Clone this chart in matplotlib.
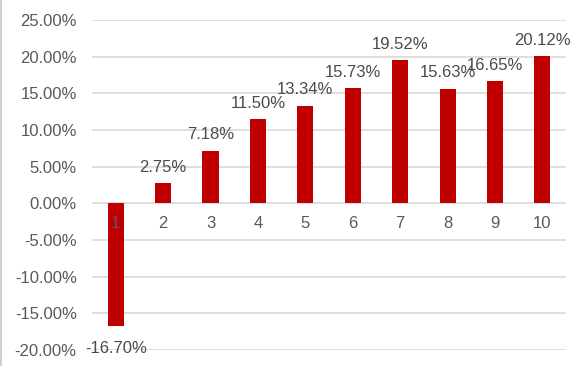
import matplotlib.pyplot as plt
from matplotlib.lines import Line2D
from matplotlib.ticker import FuncFormatter, MultipleLocator

groups = ["1", "2", "3", "4", "5", "6", "7", "8", "9", "10"]
returns = [-16.70, 2.75, 7.18, 11.50, 13.34, 15.73, 19.52, 15.63, 16.65, 20.12]

bar_color = "#C00000"
text_color = "#595959"
plt.rcParams["font.family"] = ["Liberation Sans", "DejaVu Sans"]

fig = plt.figure(figsize=(5.73, 3.66), dpi=100)
ax = fig.add_axes([0.1606, 0.0437, 0.8274, 0.9013])

x = list(range(len(groups)))
ax.bar(x, returns, width=0.34, color=bar_color, zorder=3)

ax.set_xlim(-0.5, len(groups) - 0.5)
ax.set_ylim(-20, 25)
ax.yaxis.set_major_locator(MultipleLocator(5))
ax.yaxis.set_major_formatter(FuncFormatter(lambda v, p: f"{v:.2f}%"))
ax.grid(axis="y", color="#D9D9D9", linewidth=1.2, zorder=0)
ax.tick_params(axis="y", length=0, pad=11, labelsize=12, labelcolor=text_color)
ax.set_xticks([])
for s in ax.spines.values():
    s.set_visible(False)

# category labels sit just under the zero line
for xi, g in zip(x, groups):
    ax.annotate(g, (xi, 0), xytext=(0, -9), textcoords="offset points",
                ha="center", va="top", fontsize=12, color=text_color, zorder=4)

# value labels
for xi, v in zip(x, returns):
    if v >= 0:
        ax.annotate(f"{v:.2f}%", (xi, v), xytext=(0, 6), textcoords="offset points",
                    ha="center", va="bottom", fontsize=12, color="#4a4a4a", zorder=4)
    else:
        ax.annotate(f"{v:.2f}%", (xi, v), xytext=(0, -11), textcoords="offset points",
                    ha="center", va="top", fontsize=12, color="#4a4a4a", zorder=4)

fig.add_artist(Line2D([0.002, 0.002], [0, 1], transform=fig.transFigure,
                      color="#D0D0D0", linewidth=1.5))

fig.savefig("out.png", dpi=100)
